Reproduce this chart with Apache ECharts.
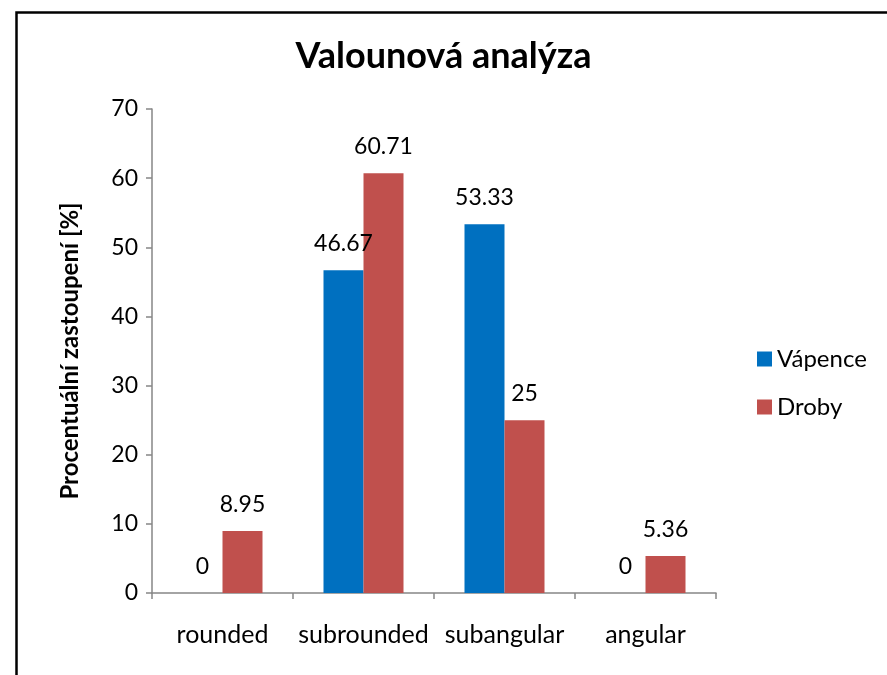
<!DOCTYPE html>
<html>
<head>
<meta charset="utf-8">
<script src="https://cdn.jsdelivr.net/npm/echarts@6/dist/echarts.min.js"></script>
<style>
html,body{margin:0;padding:0;background:#fff;}
#c{width:887px;height:675px;}
</style>
</head>
<body>
<div id="c"></div>
<script>
var categories = ['rounded', 'subrounded', 'subangular', 'angular'];
var vapence = [0, 46.67, 53.33, 0];
var droby = [8.95, 60.71, 25, 5.36];
var yTicks = [0, 10, 20, 30, 40, 50, 60, 70];

var FONT = 'Lato';
var chart = echarts.init(document.getElementById('c'), null, {renderer: 'canvas'});
var labelStyle = {show: true, position: 'top', distance: 15, color: '#000', fontFamily: FONT, fontSize: 23};
chart.setOption({
  animation: false,
  backgroundColor: '#fff',
  graphic: [{
    type: 'rect', left: 14, top: 10,
    shape: {width: 900, height: 700},
    style: {fill: 'none', stroke: '#000', lineWidth: 2.5},
    silent: true
  }],
  title: {
    text: 'Valounová analýza',
    left: 'center', top: 33,
    textStyle: {fontFamily: FONT, fontWeight: 'bold', fontSize: 36, color: '#000'}
  },
  legend: {
    orient: 'vertical', left: 752, top: 342,
    itemWidth: 15, itemHeight: 15, itemGap: 24,
    icon: 'rect',
    textStyle: {fontFamily: FONT, fontSize: 24, color: '#000'},
    data: ['Vápence', 'Droby']
  },
  grid: {left: 152, right: 171, top: 109, bottom: 82, containLabel: false},
  xAxis: {
    type: 'category', data: categories,
    axisLine: {lineStyle: {color: '#868686', width: 1.5}},
    axisTick: {show: true, interval: 0, length: 6, lineStyle: {color: '#868686', width: 1.5}},
    axisLabel: {interval: 0, fontFamily: FONT, fontSize: 25, color: '#000', margin: 29}
  },
  yAxis: {
    type: 'value', min: yTicks[0], max: yTicks[yTicks.length - 1], interval: 10,
    name: 'Procentuální zastoupení [%]',
    nameLocation: 'middle', nameGap: 70, nameRotate: 90,
    nameTextStyle: {fontFamily: FONT, fontWeight: 'bold', fontSize: 24, color: '#000', padding: [0, 0, 0, 0]},
    axisLine: {show: true, lineStyle: {color: '#868686', width: 1.5}},
    axisTick: {show: true, length: 6, lineStyle: {color: '#868686', width: 1.5}},
    splitLine: {show: false},
    axisLabel: {fontFamily: FONT, fontSize: 23, color: '#000', margin: 14}
  },
  series: [
    {name: 'Vápence', type: 'bar', data: vapence, barWidth: 40, barGap: '0%',
     itemStyle: {color: '#0070C0'}, label: labelStyle},
    {name: 'Droby', type: 'bar', data: droby, barWidth: 40, barGap: '0%',
     itemStyle: {color: '#C0504D'}, label: labelStyle}
  ]
});
</script>
</body>
</html>
